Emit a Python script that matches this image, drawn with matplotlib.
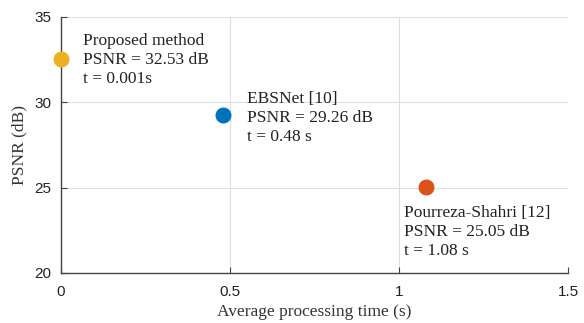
import numpy as np
import matplotlib
matplotlib.use("Agg")
import matplotlib.pyplot as plt

methods = ["Proposed method", "EBSNet [10]", "Pourreza-Shahri [12]"]
times = [0.001, 0.48, 1.08]
psnr = [32.53, 29.26, 25.05]
time_labels = ["t = 0.001s", "t = 0.48 s", "t = 1.08 s"]
colors = ["#EDB120", "#0072BD", "#D95319"]

# where each annotation block sits (data coords)
text_pos = [(0.065, 32.48), (0.55, 29.08), (1.015, 22.4)]

fig = plt.figure(figsize=(5.84, 3.23), dpi=100)
ax = fig.add_axes([61 / 584, 1 - 273 / 323, 507 / 584, 256 / 323])

for i in range(len(methods)):
    ax.scatter(times[i], psnr[i], s=110, color=colors[i], zorder=3, clip_on=False)
    label = methods[i] + "\n" + "PSNR = %.2f dB" % psnr[i] + "\n" + time_labels[i]
    ax.text(text_pos[i][0], text_pos[i][1], label, fontsize=12.5, family="Liberation Serif",
            ha="left", va="center", linespacing=1.25, color="#222222")

ax.set_xlim(0, 1.5)
ax.set_ylim(20, 35)
ax.set_xticks([0, 0.5, 1, 1.5])
ax.set_xticklabels(["0", "0.5", "1", "1.5"])
ax.set_yticks([20, 25, 30, 35])
ax.grid(True, color="#dedede", linewidth=0.8)
ax.set_axisbelow(True)

for s in ["top", "right"]:
    ax.spines[s].set_visible(False)
for s in ["left", "bottom"]:
    ax.spines[s].set_color("#444444")
    ax.spines[s].set_linewidth(1.0)

ax.tick_params(direction="in", length=4, width=0.8, color="#444444", labelsize=11,
               labelcolor="#222222")
ax.tick_params(axis="x", pad=9)
ax.tick_params(axis="y", pad=7)
for lab in ax.get_xticklabels() + ax.get_yticklabels():
    lab.set_family("Liberation Sans")

ax.set_xlabel("Average processing time (s)", fontsize=12.5, family="Liberation Serif",
              color="#333333", labelpad=3)
ax.set_ylabel("PSNR (dB)", fontsize=12.5, family="Liberation Serif",
              color="#333333", labelpad=5)

fig.savefig("out.png", dpi=100)
